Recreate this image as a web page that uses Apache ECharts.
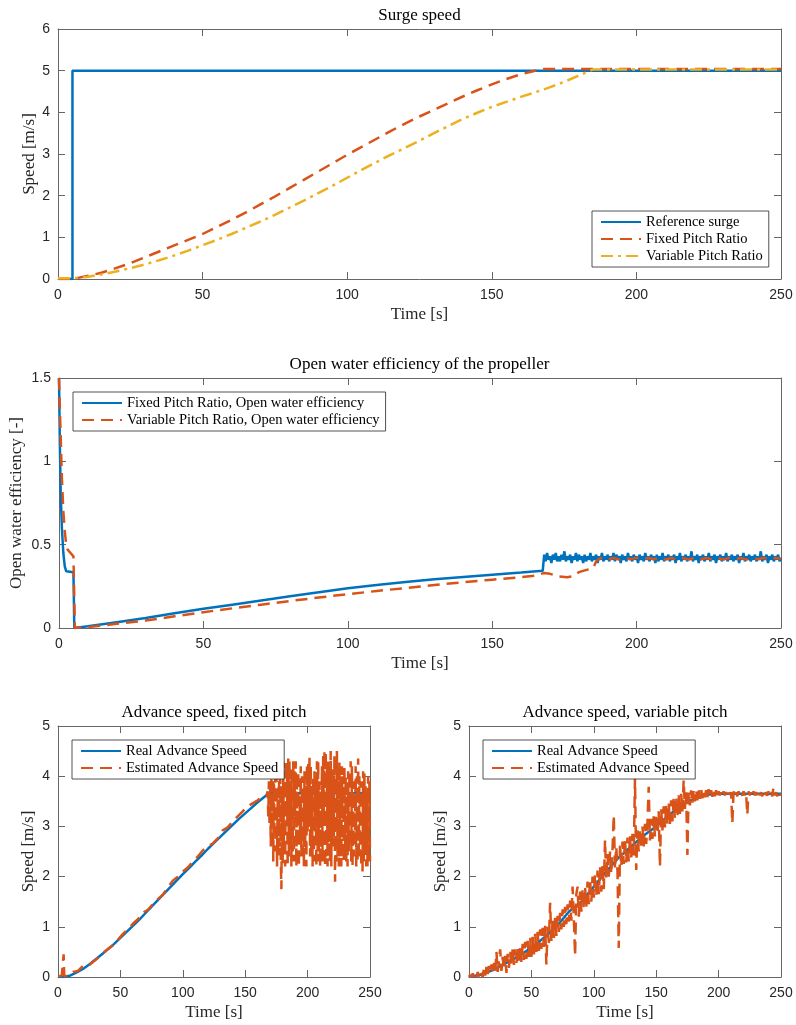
<!DOCTYPE html>
<html>
<head>
<meta charset="utf-8">
<script src="https://cdn.jsdelivr.net/npm/echarts@6/dist/echarts.min.js"></script>
<style>
  html, body { margin: 0; padding: 0; background: #fff; }
  #main { width: 796px; height: 1025px; }
</style>
</head>
<body>
<div id="main"></div>
<script>
// 颜色 (MATLAB 默认)
var BLUE = '#0072BD'
var ORANGE = '#D95319'
var YELLOW = '#EDB120'
var SERIF = 'Liberation Serif'
var SANS = 'Liberation Sans'

// ---- 图1: Surge speed ----
var surgeRef = [[0, 0], [5, 0], [5, 5], [250, 5]]
var surgeFixed = [[0, 0], [5, 0], [10, 0.07], [15, 0.15], [20, 0.26], [25, 0.38], [30, 0.52], [35, 0.66],
  [40, 0.8], [45, 0.94], [50, 1.08], [55, 1.25], [60, 1.42], [65, 1.6], [70, 1.79], [75, 1.98], [80, 2.18],
  [85, 2.38], [90, 2.58], [95, 2.78], [100, 2.98], [105, 3.17], [110, 3.36], [115, 3.55], [120, 3.73],
  [125, 3.9], [130, 4.06], [135, 4.22], [140, 4.38], [145, 4.53], [150, 4.67], [155, 4.8], [160, 4.91],
  [165, 5.0], [168, 5.04], [250, 5.04]]
var surgeVariable = [[0, 0.02], [5, 0.02], [10, 0.05], [15, 0.11], [20, 0.18], [25, 0.26], [30, 0.35],
  [35, 0.45], [40, 0.56], [45, 0.68], [50, 0.81], [55, 0.94], [60, 1.08], [65, 1.23], [70, 1.38], [75, 1.54],
  [80, 1.71], [85, 1.88], [90, 2.06], [95, 2.24], [100, 2.43], [105, 2.62], [110, 2.8], [115, 2.98],
  [120, 3.15], [125, 3.32], [130, 3.5], [135, 3.67], [140, 3.84], [145, 3.99], [150, 4.13], [155, 4.25],
  [160, 4.37], [165, 4.48], [170, 4.6], [175, 4.73], [180, 4.88], [185, 5.03], [250, 5.03]]

// ---- 图2: Open water efficiency ----
var effFixedStart = [[0, 1.5], [0.3, 1.1], [0.6, 0.8], [1, 0.6], [1.5, 0.45], [2, 0.37], [2.5, 0.34], [3, 0.335],
  [5, 0.335], [5.3, 0], [6, 0.002], [10, 0.01], [20, 0.035], [30, 0.06], [40, 0.088], [50, 0.115], [60, 0.14],
  [70, 0.165], [80, 0.19], [90, 0.215], [100, 0.238], [110, 0.258], [120, 0.276], [130, 0.292], [140, 0.306],
  [150, 0.32], [160, 0.333], [167.5, 0.343]]
// 168 s 起每 0.5 s 一个采样
var effFixedNoiseT0 = 168
var effFixedNoiseDt = 0.5
var effFixedNoise = [
  0.44, 0.40, 0.45, 0.41, 0.43, 0.39, 0.44, 0.41, 0.45, 0.40,
  0.43, 0.40, 0.44, 0.41, 0.46, 0.40, 0.43, 0.41, 0.44, 0.39,
  0.43, 0.41, 0.45, 0.40, 0.44, 0.41, 0.43, 0.39, 0.44, 0.40,
  0.43, 0.41, 0.45, 0.40, 0.43, 0.41, 0.44, 0.39, 0.43, 0.41,
  0.45, 0.40, 0.43, 0.41, 0.44, 0.40, 0.43, 0.41, 0.45, 0.40,
  0.44, 0.41, 0.43, 0.39, 0.44, 0.41, 0.43, 0.40, 0.45, 0.41,
  0.43, 0.40, 0.44, 0.41, 0.43, 0.39, 0.44, 0.41, 0.43, 0.40,
  0.45, 0.41, 0.43, 0.40, 0.44, 0.41, 0.43, 0.39, 0.44, 0.40,
  0.43, 0.41, 0.45, 0.40, 0.43, 0.41, 0.44, 0.40, 0.43, 0.41,
  0.44, 0.39, 0.43, 0.41, 0.45, 0.40, 0.43, 0.41, 0.44, 0.40,
  0.43, 0.41, 0.46, 0.40, 0.43, 0.41, 0.44, 0.39, 0.43, 0.41,
  0.44, 0.40, 0.43, 0.41, 0.45, 0.40, 0.43, 0.41, 0.44, 0.39,
  0.43, 0.41, 0.44, 0.40, 0.43, 0.41, 0.45, 0.40, 0.43, 0.41,
  0.44, 0.40, 0.43, 0.41, 0.44, 0.39, 0.43, 0.41, 0.45, 0.40,
  0.43, 0.41, 0.44, 0.40, 0.43, 0.41, 0.44, 0.40, 0.43, 0.41,
  0.46, 0.40, 0.43, 0.41, 0.44, 0.39, 0.43, 0.41, 0.44, 0.40,
  0.43, 0.41, 0.44, 0.40, 0.42]
var effVariable = [[0, 1.5], [0.5, 1.2], [1, 0.9], [1.5, 0.7], [2, 0.58], [2.5, 0.5], [3, 0.47], [4, 0.45],
  [5, 0.43], [5.5, 0], [7, 0.003], [10, 0.005], [20, 0.025], [30, 0.045], [40, 0.07], [50, 0.095], [60, 0.118],
  [70, 0.14], [80, 0.162], [90, 0.183], [100, 0.203], [110, 0.222], [120, 0.24], [130, 0.258], [140, 0.275],
  [150, 0.29], [160, 0.305], [165, 0.315], [168, 0.33], [170, 0.325], [173, 0.31], [176, 0.305], [178, 0.31],
  [180, 0.335], [183, 0.35], [185, 0.36], [186, 0.40], [187, 0.415], [188, 0.42], [190, 0.41], [192, 0.42],
  [194, 0.41], [196, 0.42], [198, 0.412], [200, 0.422], [202, 0.41], [204, 0.42], [206, 0.413], [208, 0.421],
  [210, 0.41], [212, 0.42], [214, 0.412], [216, 0.42], [218, 0.41], [220, 0.422], [222, 0.41], [224, 0.42],
  [226, 0.412], [228, 0.42], [230, 0.41], [232, 0.421], [234, 0.412], [236, 0.42], [238, 0.41], [240, 0.42],
  [242, 0.412], [244, 0.421], [246, 0.41], [248, 0.42], [250, 0.415]]

// ---- 图3: Advance speed, fixed pitch ----
var advFixedReal = [[0, 0], [5, 0], [10, 0.03], [15, 0.09], [20, 0.16], [25, 0.25], [30, 0.35], [35, 0.45],
  [40, 0.55], [45, 0.66], [50, 0.78], [55, 0.9], [60, 1.02], [65, 1.14], [70, 1.27], [75, 1.4], [80, 1.53],
  [85, 1.66], [90, 1.79], [95, 1.92], [100, 2.05], [105, 2.17], [110, 2.3], [115, 2.42], [120, 2.55],
  [125, 2.67], [130, 2.79], [135, 2.91], [140, 3.03], [145, 3.15], [150, 3.26], [155, 3.37], [160, 3.48],
  [165, 3.58], [168, 3.64], [170, 3.66], [250, 3.66]]
var advFixedEstStart = [[0, 0.02], [3, 0.02], [4.5, 0.45], [5, 0.02], [8, 0.02], [12, 0.1], [16, 0.12], [20, 0.22],
  [24, 0.22], [28, 0.3], [32, 0.38], [36, 0.48], [40, 0.56], [44, 0.63], [48, 0.74], [52, 0.86], [56, 0.95],
  [60, 1.06], [64, 1.15], [68, 1.28], [72, 1.34], [76, 1.45], [80, 1.55], [84, 1.64], [88, 1.78], [92, 1.92],
  [96, 2.0], [100, 2.1], [104, 2.18], [108, 2.3], [112, 2.4], [116, 2.52], [120, 2.6], [124, 2.66], [128, 2.76],
  [132, 2.92], [136, 2.98], [140, 3.1], [144, 3.2], [148, 3.3], [152, 3.4], [156, 3.46], [160, 3.52], [164, 3.6],
  [167, 3.62]]
// 168 s 起每 0.5 s 一个采样
var advFixedNoiseT0 = 168
var advFixedNoiseDt = 0.5
var advFixedNoise = [
  3.7, 3.2, 3.9, 3.0, 3.8, 2.6, 4.0, 3.1, 3.9, 2.3,
  4.1, 2.9, 4.0, 2.5, 4.2, 2.2, 3.6, 2.4, 4.3, 2.6,
  4.2, 2.3, 1.75, 3.8, 2.2, 4.3, 2.5, 4.1, 2.2, 4.3,
  3.0, 4.2, 2.2, 4.35, 2.4, 4.3, 2.7, 3.9, 2.2, 4.2,
  2.5, 4.3, 2.3, 4.1, 3.2, 4.3, 2.2, 3.9, 2.6, 4.1,
  2.2, 3.6, 2.8, 4.2, 2.4, 4.0, 2.5, 3.8, 2.2, 4.1,
  2.6, 3.8, 2.2, 4.2, 2.9, 4.3, 3.0, 4.4, 2.4, 4.2,
  2.4, 3.7, 2.2, 4.0, 2.3, 4.1, 2.9, 3.8, 2.2, 4.3,
  2.5, 4.3, 2.3, 3.9, 2.2, 3.5, 2.6, 4.2, 2.3, 4.4,
  3.1, 4.5, 2.2, 4.5, 2.4, 4.2, 2.2, 4.3, 2.7, 4.1,
  2.3, 4.5, 2.2, 4.2, 2.6, 3.9, 2.8, 4.4, 1.9, 4.0,
  2.3, 4.5, 2.4, 4.1, 2.2, 4.3, 2.5, 4.0, 2.2, 4.2,
  3.2, 4.0, 2.3, 4.2, 2.4, 4.0, 2.3, 3.8, 2.2, 4.1,
  2.5, 4.1, 2.6, 4.3, 2.3, 4.2, 2.2, 3.9, 2.4, 3.7,
  2.9, 4.2, 2.2, 4.0, 2.3, 4.35, 2.5, 4.0, 2.4, 3.9,
  2.2, 3.9, 2.1, 4.1, 2.3, 4.1, 2.6, 3.8, 2.2, 3.6,
  2.2, 4.0, 2.3, 3.9, 2.3]

// ---- 图4: Advance speed, variable pitch ----
var advVarReal = [[0, 0], [10, 0.05], [20, 0.15], [30, 0.28], [40, 0.42], [50, 0.58], [60, 0.78], [70, 1.0],
  [80, 1.3], [90, 1.5], [100, 1.8], [110, 2.1], [120, 2.38], [130, 2.6], [140, 2.82], [150, 3.0], [160, 3.22],
  [170, 3.42], [180, 3.55], [190, 3.63], [200, 3.65], [250, 3.65]]
// 0 s 起每 1 s 一个采样
var advVarEstT0 = 0
var advVarEstDt = 1
var advVarEst = [
  0, 0.04, 0.0, 0.07, 0.0, 0.08, 0.0, 0.1, 0.01, 0.12,
  0.15, 0.0, 0.18, 0.03, 0.2, 0.05, 0.22, 0.08, 0.25, 0.06,
  0.28, 0.08, 0.5, 0.1, 0.32, 0.55, 0.12, 0.4, 0.15, 0.42,
  0.08, 0.46, 0.18, 0.5, 0.22, 0.56, 0.24, 0.55, 0.28, 0.6,
  0.26, 0.62, 0.3, 0.66, 0.34, 0.7, 0.36, 0.72, 0.4, 0.78,
  0.4, 0.8, 0.45, 0.86, 0.5, 0.9, 0.52, 0.95, 0.56, 0.98,
  0.6, 1.02, 0.25, 1.0, 0.68, 1.48, 0.72, 1.12, 0.78, 1.18,
  0.82, 1.22, 0.9, 1.28, 0.95, 1.35, 1.0, 1.4, 1.05, 1.45,
  1.1, 1.52, 1.12, 1.8, 1.18, 0.42, 1.65, 1.8, 1.2, 1.7,
  1.3, 1.75, 1.35, 1.8, 1.4, 1.9, 1.45, 1.95, 1.5, 2.0,
  1.58, 2.05, 1.6, 2.12, 1.65, 2.2, 1.7, 2.25, 1.75, 2.73,
  1.95, 2.45, 2.0, 2.5, 2.05, 2.55, 3.23, 2.15, 2.6, 2.1,
  0.58, 2.65, 2.2, 2.7, 2.25, 2.75, 2.28, 2.78, 2.3, 2.82,
  2.38, 2.85, 2.42, 3.95, 2.13, 2.92, 2.5, 2.95, 2.55, 3.0,
  2.6, 3.05, 2.65, 3.1, 3.79, 2.72, 3.15, 2.75, 3.2, 2.8,
  3.25, 2.85, 3.3, 2.2, 3.35, 2.92, 3.4, 2.98, 3.42, 3.02,
  3.48, 3.05, 3.52, 3.1, 3.55, 3.15, 3.6, 3.2, 3.62, 3.25,
  3.65, 3.3, 3.92, 3.35, 3.68, 2.43, 3.7, 3.42, 3.72, 3.45,
  3.72, 3.5, 3.74, 3.52, 3.72, 3.55, 3.74, 3.56, 3.72, 3.58,
  3.72, 3.58, 3.74, 3.6, 3.72, 3.59, 3.74, 3.6, 3.72, 3.59,
  3.7, 3.62, 3.68, 3.6, 3.7, 3.62, 3.68, 3.61, 3.7, 3.63,
  3.68, 3.06, 3.7, 3.62, 3.68, 3.6, 3.7, 3.62, 3.68, 3.61,
  3.7, 3.62, 3.68, 3.23, 3.7, 3.62, 3.68, 3.6, 3.7, 3.62,
  3.68, 3.61, 3.7, 3.62, 3.68, 3.6, 3.7, 3.62, 3.68, 3.61,
  3.7, 3.62, 3.68, 3.6, 3.78, 3.62, 3.68, 3.6, 3.7, 3.62,
  3.65]

function sampled(t0, dt, values) {
  return values.map(function (v, i) { return [t0 + i * dt, v] })
}
var effFixed = effFixedStart.concat(sampled(effFixedNoiseT0, effFixedNoiseDt, effFixedNoise))
var advFixedEst = advFixedEstStart.concat(sampled(advFixedNoiseT0, advFixedNoiseDt, advFixedNoise))
var advVarEstData = sampled(advVarEstT0, advVarEstDt, advVarEst)

var xTicks = { min: 0, max: 250, interval: 50 }

var grids = [
  { left: 58, top: 29, width: 723, height: 250 },
  { left: 58, top: 378, width: 723, height: 250 },
  { left: 58, top: 726, width: 312, height: 251 },
  { left: 469, top: 726, width: 312, height: 251 }
]
var yCfg = [
  { min: 0, max: 6, interval: 1, name: 'Speed [m/s]', gap: 20 },
  { min: 0, max: 1.5, interval: 0.5, name: 'Open water efficiency [-]', gap: 34 },
  { min: 0, max: 5, interval: 1, name: 'Speed [m/s]', gap: 21 },
  { min: 0, max: 5, interval: 1, name: 'Speed [m/s]', gap: 20 }
]
var titles = ['Surge speed', 'Open water efficiency of the propeller', 'Advance speed, fixed pitch', 'Advance speed, variable pitch']
var titleTop = [7, 356, 704, 704]

var axisLine = { onZero: false, lineStyle: { color: '#666', width: 1 } }
var tick = { inside: true, length: 7, lineStyle: { color: '#666', width: 1 } }

var xAxes = []
var yAxes = []
grids.forEach(function (g, i) {
  xAxes.push({
    type: 'value', gridIndex: i, position: 'bottom', min: xTicks.min, max: xTicks.max, interval: xTicks.interval,
    name: 'Time [s]', nameLocation: 'middle', nameGap: 27, nameMoveOverlap: false,
    nameTextStyle: { fontFamily: SERIF, fontSize: 17, color: '#262626' },
    axisLine: axisLine, axisTick: tick, splitLine: { show: false },
    axisLabel: { fontFamily: SANS, fontSize: 14, color: '#262626', margin: 9 }
  })
  xAxes.push({
    type: 'value', gridIndex: i, position: 'top', min: xTicks.min, max: xTicks.max, interval: xTicks.interval,
    axisLine: axisLine, axisTick: tick, splitLine: { show: false }, axisLabel: { show: false }
  })
  var c = yCfg[i]
  yAxes.push({
    type: 'value', gridIndex: i, position: 'left', min: c.min, max: c.max, interval: c.interval,
    name: c.name, nameLocation: 'middle', nameGap: c.gap, nameMoveOverlap: false,
    nameTextStyle: { fontFamily: SERIF, fontSize: 17, color: '#262626' },
    axisLine: axisLine, axisTick: tick, splitLine: { show: false },
    axisLabel: { fontFamily: SANS, fontSize: 14, color: '#262626', margin: 8 }
  })
  yAxes.push({
    type: 'value', gridIndex: i, position: 'right', min: c.min, max: c.max, interval: c.interval,
    axisLine: axisLine, axisTick: tick, splitLine: { show: false }, axisLabel: { show: false }
  })
})

function line(name, data, grid, color, type) {
  return {
    name: name, type: 'line', data: data, xAxisIndex: grid * 2, yAxisIndex: grid * 2,
    showSymbol: false, symbol: 'none', silent: true,
    lineStyle: { color: color, width: 2.5, type: type || 'solid' },
    itemStyle: { color: color }
  }
}

var DASH = [12, 7]
var DASHDOT = [12, 5, 3, 5]

function legendAt(left, top, names) {
  return {
    left: left, top: top, orient: 'vertical', data: names, selectedMode: false,
    itemWidth: 40, itemHeight: 8, itemGap: 1,
    itemStyle: { opacity: 0 },
    backgroundColor: '#fff', borderColor: '#262626', borderWidth: 0.8, padding: [3, 6, 3, 8],
    textStyle: { fontFamily: SERIF, fontSize: 14.5, color: '#000', lineHeight: 16 }
  }
}

var myChart = echarts.init(document.getElementById('main'))
myChart.setOption({
  animation: false,
  backgroundColor: '#fff',
  title: titles.map(function (t, i) {
    return {
      text: t, left: grids[i].left + grids[i].width / 2, top: titleTop[i], textAlign: 'center', padding: 0,
      textStyle: { fontFamily: SERIF, fontSize: 17, fontWeight: 'normal', color: '#000' }
    }
  }),
  grid: grids,
  xAxis: xAxes,
  yAxis: yAxes,
  legend: [
    legendAt(592, 211, ['Reference surge', 'Fixed Pitch Ratio', 'Variable Pitch Ratio']),
    legendAt(73, 392, ['Fixed Pitch Ratio, Open water efficiency', 'Variable Pitch Ratio, Open water efficiency']),
    legendAt(72, 740, ['Real Advance Speed', 'Estimated Advance Speed']),
    legendAt(483, 740, ['Real Advance Speed', 'Estimated Advance Speed'])
  ],
  series: [
    line('Reference surge', surgeRef, 0, BLUE),
    line('Fixed Pitch Ratio', surgeFixed, 0, ORANGE, DASH),
    line('Variable Pitch Ratio', surgeVariable, 0, YELLOW, DASHDOT),
    line('Fixed Pitch Ratio, Open water efficiency', effFixed, 1, BLUE),
    line('Variable Pitch Ratio, Open water efficiency', effVariable, 1, ORANGE, DASH),
    line('Real Advance Speed', advFixedReal, 2, BLUE),
    line('Estimated Advance Speed', advFixedEst, 2, ORANGE, DASH),
    line('Real Advance Speed', advVarReal, 3, BLUE),
    line('Estimated Advance Speed', advVarEstData, 3, ORANGE, DASH)
  ]
})
</script>
</body>
</html>
